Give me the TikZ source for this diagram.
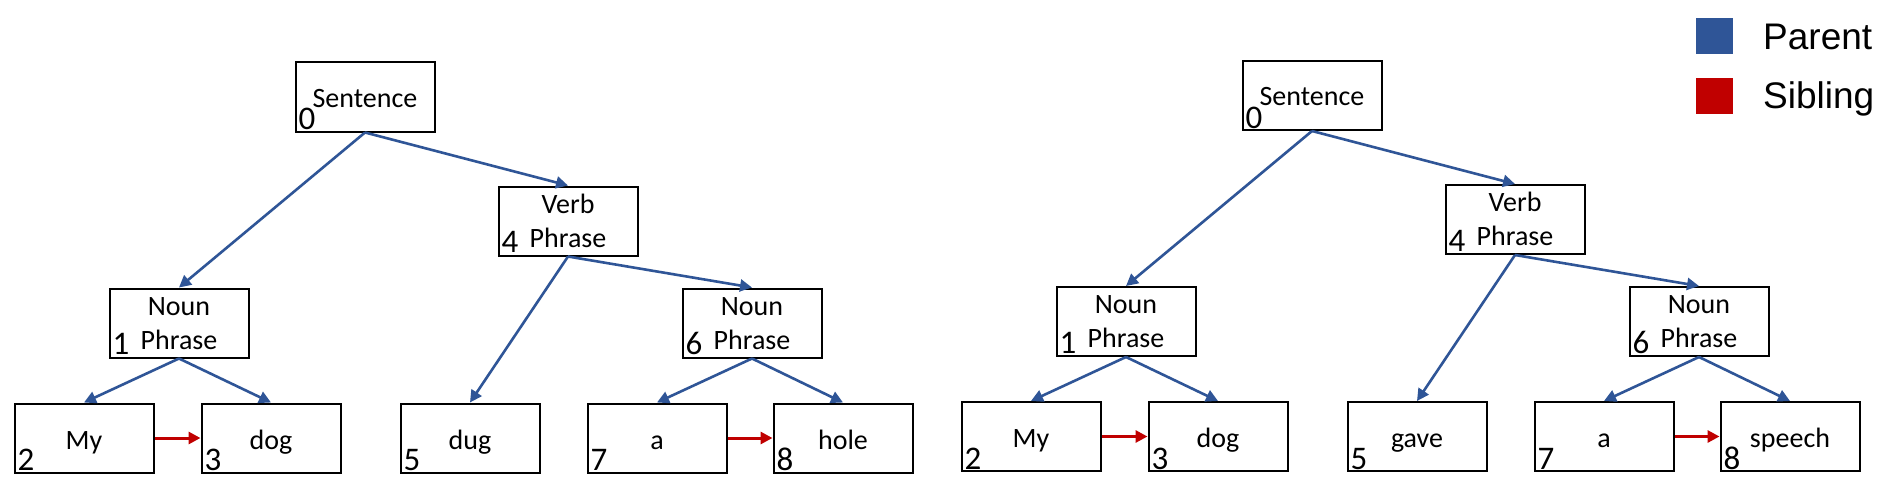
\documentclass[tikz,border=0pt]{standalone}
\usepackage{fontspec}
\setmainfont{Carlito}
\newfontfamily\legendfont{Liberation Sans}
\usetikzlibrary{arrows.meta}
\definecolor{parentblue}{HTML}{2F5597}
\definecolor{siblingred}{HTML}{C00000}
\tikzset{
  tbox/.style={draw=black, line width=2pt, minimum width=139pt, minimum height=69pt, inner sep=0pt},
  word/.style={anchor=base, inner sep=0pt, font=\fontsize{28}{34}\selectfont},
  idx/.style={anchor=base west, inner sep=0pt, font=\fontsize{33}{38}\selectfont},
  parentarrow/.style={draw=parentblue, line width=2.6pt, -{Triangle[length=12pt,width=12pt]}},
  siblingarrow/.style={draw=siblingred, line width=3pt, -{Triangle[length=12pt,width=12pt]}},
  legbox/.style={minimum width=37pt, minimum height=36pt, inner sep=0pt},
  legtext/.style={anchor=base west, inner sep=0pt, font=\legendfont\fontsize{37}{44}\selectfont},
}
\newcommand\drawsyntree[4]{%
\begin{scope}[shift={#2}]
  % boxes
  \node[tbox] (#1s)   at (365,97)  {};
  \node[tbox] (#1v)   at (568,221) {};
  \node[tbox] (#1na)  at (179,323) {};
  \node[tbox] (#1nb)  at (752,323) {};
  \node[tbox] (#1my)  at (84,438)  {};
  \node[tbox] (#1dog) at (271,438) {};
  \node[tbox] (#1w5)  at (470,438) {};
  \node[tbox] (#1a)   at (657,438) {};
  \node[tbox] (#1w8)  at (843,438) {};
  % words
  \node[word] (#1st)  at ([yshift=-10pt]#1s.center) {Sentence};
  \node[word] (#1vt)  at ([yshift=8pt]#1v.center) {Verb};
  \node[word] (#1vp)  at ([yshift=-26pt]#1v.center) {Phrase};
  \node[word] (#1nat) at ([yshift=8pt]#1na.center) {Noun};
  \node[word] (#1nap) at ([yshift=-26pt]#1na.center) {Phrase};
  \node[word] (#1nbt) at ([yshift=8pt]#1nb.center) {Noun};
  \node[word] (#1nbp) at ([yshift=-26pt]#1nb.center) {Phrase};
  \node[word] (#1myt) at ([yshift=-11pt]#1my.center) {My};
  \node[word] (#1dogt) at ([yshift=-11pt]#1dog.center) {dog};
  \node[word] (#1w5t) at ([yshift=-11pt]#1w5.center) {#3};
  \node[word] (#1at)  at ([yshift=-11pt]#1a.center) {a};
  \node[word] (#1w8t) at ([yshift=-11pt]#1w8.center) {#4};
  % indices
  \node[idx] (#1i0) at ([xshift=4pt,yshift=3pt]#1s.south west) {0};
  \node[idx] (#1i4) at ([xshift=4pt,yshift=4pt]#1v.south west) {4};
  \node[idx] (#1i1) at ([xshift=4pt,yshift=4pt]#1na.south west) {1};
  \node[idx] (#1i6) at ([xshift=4pt,yshift=4pt]#1nb.south west) {6};
  \node[idx] (#1i2) at ([xshift=4pt,yshift=3pt]#1my.south west) {2};
  \node[idx] (#1i3) at ([xshift=4pt,yshift=3pt]#1dog.south west) {3};
  \node[idx] (#1i5) at ([xshift=4pt,yshift=3pt]#1w5.south west) {5};
  \node[idx] (#1i7) at ([xshift=4pt,yshift=3pt]#1a.south west) {7};
  \node[idx] (#1i8) at ([xshift=4pt,yshift=3pt]#1w8.south west) {8};
  % parent edges
  \draw[parentarrow] (#1s.south) -- (#1na.north);
  \draw[parentarrow] (#1s.south) -- (#1v.north);
  \draw[parentarrow] (#1v.south) -- (#1w5.north);
  \draw[parentarrow] (#1v.south) -- (#1nb.north);
  \draw[parentarrow] (#1na.south) -- (#1my.north);
  \draw[parentarrow] (#1na.south) -- (#1dog.north);
  \draw[parentarrow] (#1nb.south) -- (#1a.north);
  \draw[parentarrow] (#1nb.south) -- (#1w8.north);
  % sibling edges
  \draw[siblingarrow] (#1my.east) -- (#1dog.west);
  \draw[siblingarrow] (#1a.east) -- (#1w8.west);
\end{scope}}
\begin{document}
\begin{tikzpicture}[x=1pt,y=-1pt]
  \fill[white] (0,0) rectangle (1897,495);
  \useasboundingbox (0,0) rectangle (1897,495);
  \drawsyntree{L}{(0,0)}{dug}{hole}
  \drawsyntree{R}{(947,-1.5)}{gave}{speech}
  % legend
  \node[legbox, fill=parentblue] (legP) at (1714.5,36) {};
  \node[legbox, fill=siblingred] (legS) at (1714.5,95.5) {};
  \node[legtext] (legPt) at (1763,50) {Parent};
  \node[legtext] (legSt) at (1763,108) {Sibling};
\end{tikzpicture}
\end{document}
